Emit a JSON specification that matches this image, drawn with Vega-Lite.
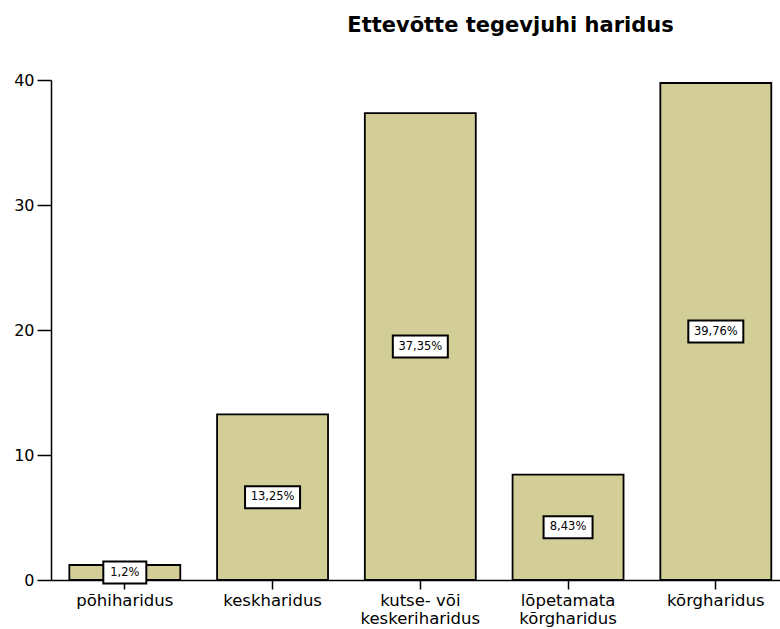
{
  "$schema": "https://vega.github.io/schema/vega-lite/v6.json",
  "width": 729,
  "height": 500,
  "autosize": "none",
  "padding": {"left": 51, "top": 80, "right": 0, "bottom": 49},
  "background": "white",
  "view": {"stroke": null},
  "title": {
    "text": "Ettevõtte tegevjuhi haridus",
    "font": "DejaVu Sans",
    "fontSize": 21,
    "fontWeight": "bold",
    "color": "black",
    "anchor": "middle",
    "dx": 95,
    "offset": 36
  },
  "data": {
    "values": [
      {"category": "põhiharidus", "value": 1.2},
      {"category": "keskharidus", "value": 13.25},
      {"category": "kutse- või\nkeskeriharidus", "value": 37.35},
      {"category": "lõpetamata\nkõrgharidus", "value": 8.43},
      {"category": "kõrgharidus", "value": 39.76}
    ]
  },
  "transform": [
    {"calculate": "datum.value / 2", "as": "mid"},
    {"calculate": "replace(format(datum.value, '.2~f'), '.', ',') + '%'", "as": "label"},
    {"calculate": "6 * length(datum.label) + 19", "as": "boxw"}
  ],
  "encoding": {
    "x": {
      "field": "category",
      "type": "nominal",
      "sort": null,
      "scale": {"paddingInner": 0.249, "paddingOuter": 0.0915, "align": 0.678},
      "axis": {
        "title": null,
        "labelAngle": 0,
        "labelExpr": "split(datum.label, '\\n')",
        "labelFont": "DejaVu Sans",
        "labelFontSize": 16.5,
        "labelColor": "black",
        "labelLineHeight": 18,
        "labelPadding": 3,
        "domainColor": "black",
        "domainWidth": 1.5,
        "tickColor": "black",
        "tickWidth": 1.5,
        "tickSize": 9
      }
    }
  },
  "layer": [
    {
      "mark": {"type": "bar", "fill": "#d3ce97", "stroke": "black", "strokeWidth": 1.8},
      "encoding": {
        "y": {
          "field": "value",
          "type": "quantitative",
          "scale": {"domain": [0, 40], "nice": false},
          "axis": {
            "title": null,
            "values": [0, 10, 20, 30, 40],
            "grid": false,
            "labelFont": "DejaVu Sans",
            "labelFontSize": 16,
            "labelColor": "black",
            "labelPadding": 3,
            "domainColor": "black",
            "domainWidth": 1.5,
            "tickColor": "black",
            "tickWidth": 1.5,
            "tickSize": 14
          }
        }
      }
    },
    {
      "mark": {"type": "bar", "fill": "white", "stroke": "black", "strokeWidth": 2, "yOffset": -11, "y2Offset": 11},
      "encoding": {
        "y": {"field": "mid", "type": "quantitative"},
        "y2": {"field": "mid"},
        "size": {"field": "boxw", "type": "quantitative", "scale": null, "legend": null}
      }
    },
    {
      "mark": {"type": "text", "font": "DejaVu Sans", "fontSize": 11.5, "color": "black", "align": "center", "baseline": "middle"},
      "encoding": {
        "y": {"field": "mid", "type": "quantitative"},
        "text": {"field": "label"}
      }
    }
  ]
}
